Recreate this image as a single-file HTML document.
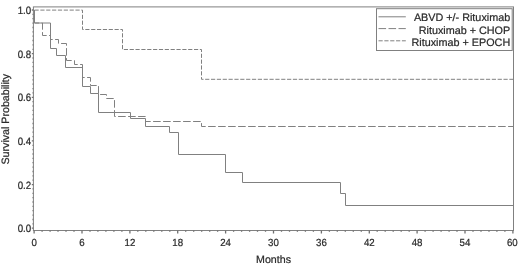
<!DOCTYPE html>
<html><head><meta charset="utf-8"><title>Survival</title>
<style>
html,body{margin:0;padding:0;background:#fff;}
body{width:520px;height:265px;overflow:hidden;}
svg{display:block;filter:blur(0.35px);}
text{font-family:"Liberation Sans",Arial,sans-serif;fill:#2a2a2a;stroke:#2a2a2a;stroke-width:0.22px;text-rendering:geometricPrecision;}
.t{font-size:10.0px;}
.l{font-size:10.67px;}
.g{font-size:10.8px;}
</style></head><body>
<svg width="520" height="265" viewBox="0 0 520 265">
<rect width="520" height="265" fill="#fff"/>
<rect x="33.4" y="6.9" width="480.1" height="223.6" fill="none" stroke="#808080" stroke-width="1"/>
<path d="M34.1 230.5v3M42.1 230.5v1.3M50.1 230.5v1.3M58.0 230.5v1.3M66.0 230.5v1.3M74.0 230.5v1.3M82.0 230.5v3M90.0 230.5v1.3M97.9 230.5v1.3M105.9 230.5v1.3M113.9 230.5v1.3M121.9 230.5v1.3M129.9 230.5v3M137.8 230.5v1.3M145.8 230.5v1.3M153.8 230.5v1.3M161.8 230.5v1.3M169.8 230.5v1.3M177.7 230.5v3M185.7 230.5v1.3M193.7 230.5v1.3M201.7 230.5v1.3M209.7 230.5v1.3M217.6 230.5v1.3M225.6 230.5v3M233.6 230.5v1.3M241.6 230.5v1.3M249.6 230.5v1.3M257.5 230.5v1.3M265.5 230.5v1.3M273.5 230.5v3M281.5 230.5v1.3M289.5 230.5v1.3M297.4 230.5v1.3M305.4 230.5v1.3M313.4 230.5v1.3M321.4 230.5v3M329.4 230.5v1.3M337.3 230.5v1.3M345.3 230.5v1.3M353.3 230.5v1.3M361.3 230.5v1.3M369.3 230.5v3M377.2 230.5v1.3M385.2 230.5v1.3M393.2 230.5v1.3M401.2 230.5v1.3M409.2 230.5v1.3M417.1 230.5v3M425.1 230.5v1.3M433.1 230.5v1.3M441.1 230.5v1.3M449.1 230.5v1.3M457.0 230.5v1.3M465.0 230.5v3M473.0 230.5v1.3M481.0 230.5v1.3M489.0 230.5v1.3M496.9 230.5v1.3M504.9 230.5v1.3M512.9 230.5v3M33.4 228.2h-1.6M33.4 223.8h-0.9M33.4 219.5h-0.9M33.4 215.1h-0.9M33.4 210.7h-0.9M33.4 206.4h-0.9M33.4 202.0h-0.9M33.4 197.7h-0.9M33.4 193.3h-0.9M33.4 188.9h-0.9M33.4 184.6h-1.6M33.4 180.2h-0.9M33.4 175.8h-0.9M33.4 171.5h-0.9M33.4 167.1h-0.9M33.4 162.7h-0.9M33.4 158.4h-0.9M33.4 154.0h-0.9M33.4 149.6h-0.9M33.4 145.3h-0.9M33.4 140.9h-1.6M33.4 136.6h-0.9M33.4 132.2h-0.9M33.4 127.8h-0.9M33.4 123.5h-0.9M33.4 119.1h-0.9M33.4 114.7h-0.9M33.4 110.4h-0.9M33.4 106.0h-0.9M33.4 101.6h-0.9M33.4 97.3h-1.6M33.4 92.9h-0.9M33.4 88.6h-0.9M33.4 84.2h-0.9M33.4 79.8h-0.9M33.4 75.5h-0.9M33.4 71.1h-0.9M33.4 66.7h-0.9M33.4 62.4h-0.9M33.4 58.0h-0.9M33.4 53.6h-1.6M33.4 49.3h-0.9M33.4 44.9h-0.9M33.4 40.5h-0.9M33.4 36.2h-0.9M33.4 31.8h-0.9M33.4 27.5h-0.9M33.4 23.1h-0.9M33.4 18.7h-0.9M33.4 14.4h-0.9M33.4 10.0h-1.6" stroke="#707070" stroke-width="1.3" fill="none"/>
<text class="t" transform="translate(34.1,245.7) scale(0.97,1.03)" text-anchor="middle">0</text>
<text class="t" transform="translate(82.0,245.7) scale(0.97,1.03)" text-anchor="middle">6</text>
<text class="t" transform="translate(129.9,245.7) scale(0.97,1.03)" text-anchor="middle">12</text>
<text class="t" transform="translate(177.7,245.7) scale(0.97,1.03)" text-anchor="middle">18</text>
<text class="t" transform="translate(225.6,245.7) scale(0.97,1.03)" text-anchor="middle">24</text>
<text class="t" transform="translate(273.5,245.7) scale(0.97,1.03)" text-anchor="middle">30</text>
<text class="t" transform="translate(321.4,245.7) scale(0.97,1.03)" text-anchor="middle">36</text>
<text class="t" transform="translate(369.3,245.7) scale(0.97,1.03)" text-anchor="middle">42</text>
<text class="t" transform="translate(417.1,245.7) scale(0.97,1.03)" text-anchor="middle">48</text>
<text class="t" transform="translate(465.0,245.7) scale(0.97,1.03)" text-anchor="middle">54</text>
<text class="t" transform="translate(512.3,245.7) scale(0.97,1.03)" text-anchor="middle">60</text>
<text class="t" transform="translate(31.2,232.2) scale(0.97,1.06)" text-anchor="end">0.0</text>
<text class="t" transform="translate(31.2,188.6) scale(0.97,1.06)" text-anchor="end">0.2</text>
<text class="t" transform="translate(31.2,144.9) scale(0.97,1.06)" text-anchor="end">0.4</text>
<text class="t" transform="translate(31.2,101.3) scale(0.97,1.06)" text-anchor="end">0.6</text>
<text class="t" transform="translate(31.2,57.6) scale(0.97,1.06)" text-anchor="end">0.8</text>
<text class="t" transform="translate(31.2,14.0) scale(0.97,1.06)" text-anchor="end">1.0</text>
<text class="l" x="273.5" y="263.0" text-anchor="middle">Months</text>
<text class="l" transform="translate(8.9,119.2) rotate(-90)" text-anchor="middle">Survival Probability</text>
<polyline points="34.5,10.1 34.5,23.0 50.5,23.0 50.5,48.5 56.5,48.5 56.5,55.5 65.5,55.5 65.5,67.5 82.5,67.5 82.5,86.5 90.5,86.5 90.5,93.5 98.5,93.5 98.5,112.5 130.5,112.5 130.5,118.5 145.5,118.5 145.5,126.5 169.5,126.5 169.5,132.5 178.5,132.5 178.5,154.5 225.5,154.5 225.5,172.5 242.5,172.5 242.5,182.5 340.5,182.5 340.5,193.5 345.5,193.5 345.5,205.5 513.5,205.5" fill="none" stroke="#808080" stroke-width="1"/>
<polyline points="34.5,10.1 34.5,23.0 42.5,23.0 42.5,35.5 50.5,35.5 50.5,39.5 58.5,39.5 58.5,43.5 66.5,43.5 66.5,60.5 74.5,60.5 74.5,64.5 82.5,64.5 82.5,77.5 90.5,77.5 90.5,85.5 98.5,85.5 98.5,94.5 106.5,94.5 106.5,98.5 114.5,98.5 114.5,116.5 145.5,116.5 145.5,121.5 201.5,121.5 201.5,126.5 513.5,126.5" fill="none" stroke="#808080" stroke-width="1" stroke-dasharray="7.6 2.4"/>
<polyline points="34.5,10.1 82.5,10.1 82.5,29.5 122.5,29.5 122.5,49.5 201.5,49.5 201.5,79.3 513.5,79.3" fill="none" stroke="#808080" stroke-width="1" stroke-dasharray="4.2 1.65"/>
<rect x="376.5" y="8.7" width="135.7" height="41.8" fill="#fff" stroke="#808080" stroke-width="1"/>
<line x1="378.5" x2="405.8" y1="16.8" y2="16.8" stroke="#808080" stroke-width="1"/>
<text class="g" x="510.2" y="21.4" text-anchor="end">ABVD +/- Rituximab</text>
<line x1="378.5" x2="405.8" y1="28.6" y2="28.6" stroke="#808080" stroke-width="1" stroke-dasharray="7.6 2.4"/>
<text class="g" x="510.2" y="33.6" text-anchor="end">Rituximab + CHOP</text>
<line x1="378.5" x2="405.8" y1="40.8" y2="40.8" stroke="#808080" stroke-width="1" stroke-dasharray="4.2 1.65"/>
<text class="g" x="510.2" y="45.6" text-anchor="end">Rituximab + EPOCH</text>
</svg></body></html>
